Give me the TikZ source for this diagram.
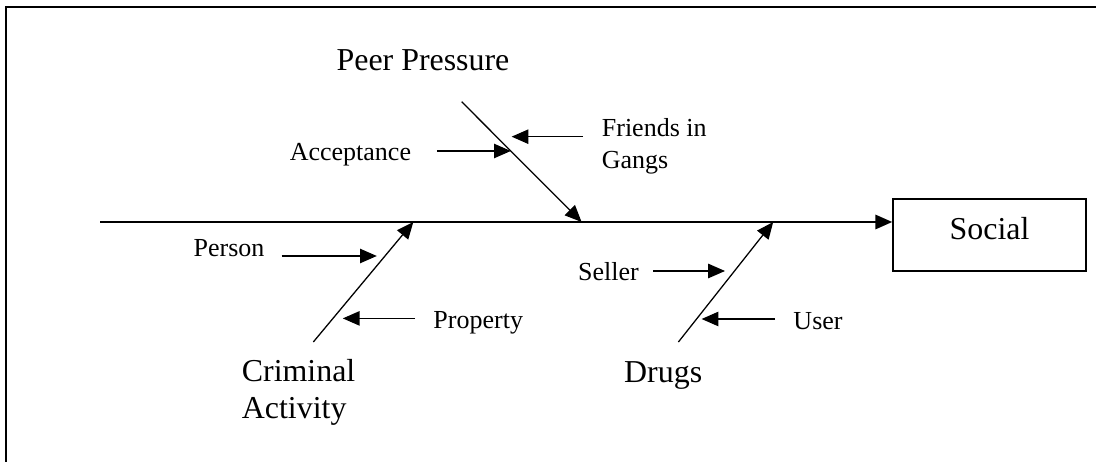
\documentclass[tikz,border=0pt]{standalone}
\usepackage{fontspec}
\setmainfont{Liberation Serif}
\usetikzlibrary{arrows.meta}

\begin{document}
\begin{tikzpicture}
				[big/.style={inner sep=0pt,font=\fontsize{22.7}{26}\selectfont},
				small/.style={inner sep=0pt,font=\fontsize{18.5}{22.7}\selectfont},
				tip/.style={-{Triangle[length=0.42cm,width=0.36cm]}},
				bone/.style={tip,line width=0.9pt},
				spine/.style={tip,line width=1.3pt}]
				\useasboundingbox (0,0) rectangle (27.4,11.55);
				\draw[line width=1.5pt] (0.15,0) -- (0.15,11.375) -- (27.4,11.375);
				
				\node[big,draw,line width=1.3pt,minimum width=4.825cm,minimum height=1.8cm,text depth=0.35cm] (social) at (24.74,5.675) {Social};
				\node[big,anchor=base] (peer) at (10.575,9.775) {Peer Pressure};
				\node[big,anchor=west,align=left] (crim) at (6.04,1.735) {Criminal\\Activity};
				\node[big,anchor=base] (drugs) at (16.58,1.975) {Drugs};
				\node[small,anchor=base] (acc) at (8.76,7.525) {Acceptance};
				\node[small,anchor=west,align=left] (friends) at (15.04,7.9) {Friends in\\Gangs};
				\node[small,anchor=base] (person) at (5.725,5.125) {Person};
				\node[small,anchor=base west] (prop) at (10.83,3.325) {Property};
				\node[small,anchor=base] (seller) at (15.21,4.525) {Seller};
				\node[small,anchor=base west] (user) at (19.83,3.32) {User};
				
				\coordinate (s0) at (2.5,6);
				\coordinate (p0) at (11.54,9.008);
				\coordinate (p1) at (14.54,6);
				\coordinate (c0) at (7.833,3);
				\coordinate (c1) at (10.333,6);
				\coordinate (d0) at (16.96,3);
				\coordinate (d1) at (19.33,6);
				\coordinate (a0) at (10.92,7.775);
				\coordinate (a1) at (12.77,7.775);
				\coordinate (f0) at (14.575,8.133);
				\coordinate (f1) at (12.79,8.133);
				\coordinate (e0) at (7.04,5.15);
				\coordinate (e1) at (9.42,5.15);
				\coordinate (r0) at (10.375,3.59);
				\coordinate (r1) at (8.57,3.59);
				\coordinate (l0) at (16.33,4.775);
				\coordinate (l1) at (18.125,4.775);
				\coordinate (u0) at (19.375,3.575);
				\coordinate (u1) at (17.54,3.575);
				
				\draw[spine] (s0) -- (s0 -| social.west);
				\foreach \from/\to in {p0/p1,c0/c1,d0/d1,a0/a1,f0/f1,e0/e1,r0/r1,l0/l1,u0/u1}
				\draw[bone] (\from) -- (\to);
				\end{tikzpicture}
\end{document}
